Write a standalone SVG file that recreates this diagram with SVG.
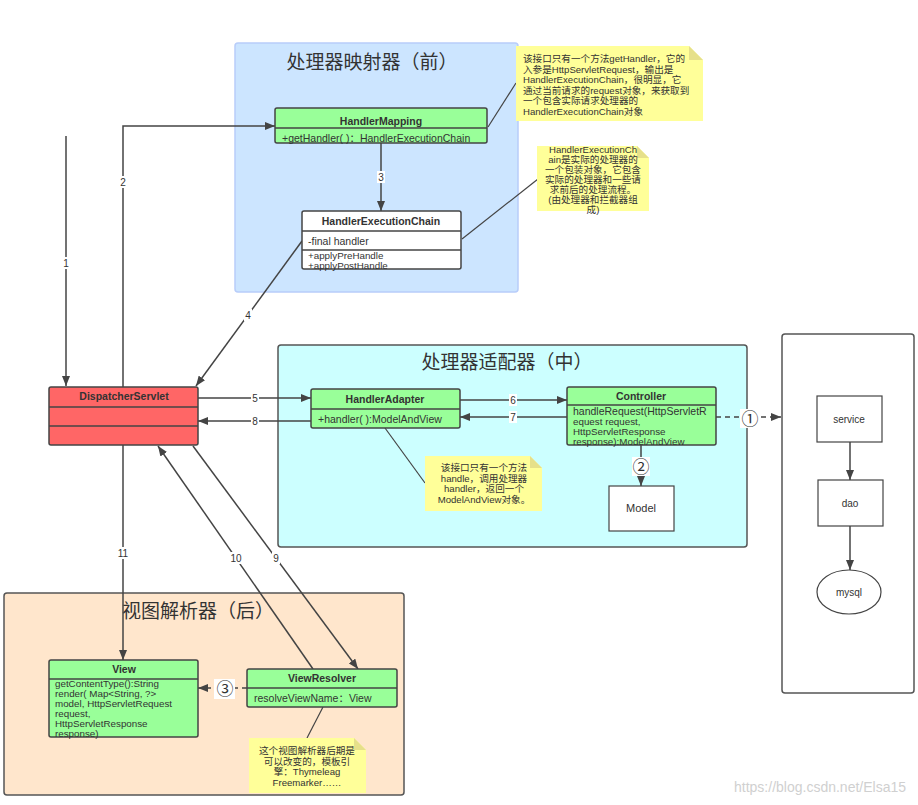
<svg xmlns="http://www.w3.org/2000/svg" width="918" height="805" viewBox="0 0 918 805">
<defs>
<style>
text{font-family:"Liberation Sans","Noto Sans CJK SC",sans-serif;fill:#333;}
.title{font-size:19px;font-family:"Noto Sans CJK SC",sans-serif;fill:#333;}
.cls{stroke:#444;stroke-width:1.5;}
.green{fill:#99ff99;}
.bold{font-size:10.5px;font-weight:bold;}
.m{font-size:10.5px;}
.ms{font-size:9.8px;}
.note{fill:#ffff99;}
.nt{font-size:9.6px;}
.lbl{font-size:10px;text-anchor:middle;}
.conn{fill:none;stroke:#444;stroke-width:1.5;}
.dash{stroke-dasharray:5 4;}
.thin{fill:none;stroke:#444;stroke-width:1.2;}
.lb{fill:#fff;}
</style>
<marker id="arr" markerUnits="userSpaceOnUse" markerWidth="10" markerHeight="8" refX="10" refY="4" orient="auto">
<path d="M0,0 L10,4 L0,8 z" fill="#444"/>
</marker>
</defs>
<rect width="918" height="805" fill="#fff"/>

<!-- group boxes -->
<g id="grp-mapping">
<rect x="235" y="43" width="283" height="249" rx="3" fill="#cce5ff" stroke="#b8cdfa" stroke-width="1.5"/>
<text class="title" x="372" y="69" text-anchor="middle">处理器映射器（前）</text>
</g>
<g id="grp-adapter">
<rect x="278" y="345" width="469" height="202" rx="3" fill="#ccffff" stroke="#555" stroke-width="1.5"/>
<text class="title" x="507" y="369" text-anchor="middle">处理器适配器（中）</text>
</g>
<g id="grp-view">
<rect x="4" y="593" width="400" height="202" rx="3" fill="#ffe6cc" stroke="#555" stroke-width="1.5"/>
<text class="title" x="198" y="618" text-anchor="middle">视图解析器（后）</text>
</g>
<g id="grp-backend">
<rect x="782" y="334" width="132" height="359" rx="3" fill="#fff" stroke="#555" stroke-width="1.5"/>
</g>

<!-- connectors -->
<g id="connectors">
<line class="conn" x1="66" y1="136" x2="66" y2="386" marker-end="url(#arr)"/>
<rect class="lb" x="62" y="257" width="8" height="12"/>
<text class="lbl" x="66" y="267">1</text>

<polyline class="conn" points="123,387 123,126 275,126" marker-end="url(#arr)"/>
<rect class="lb" x="119" y="176" width="8" height="12"/>
<text class="lbl" x="123" y="186">2</text>

<line class="conn" x1="381" y1="143" x2="381" y2="211" marker-end="url(#arr)"/>
<rect class="lb" x="377" y="171" width="8" height="12"/>
<text class="lbl" x="381" y="181">3</text>

<line class="conn" x1="302" y1="241" x2="196" y2="386" marker-end="url(#arr)"/>
<rect class="lb" x="244" y="309" width="8" height="12"/>
<text class="lbl" x="248" y="319">4</text>

<line class="conn" x1="198" y1="398" x2="311" y2="398" marker-end="url(#arr)"/>
<rect class="lb" x="251" y="392" width="8" height="12"/>
<text class="lbl" x="255" y="402">5</text>

<line class="conn" x1="460" y1="400" x2="567" y2="400" marker-end="url(#arr)"/>
<rect class="lb" x="509" y="394" width="8" height="12"/>
<text class="lbl" x="513" y="404">6</text>

<line class="conn" x1="567" y1="417" x2="460" y2="417" marker-end="url(#arr)"/>
<rect class="lb" x="509" y="411" width="8" height="12"/>
<text class="lbl" x="513" y="421">7</text>

<line class="conn" x1="311" y1="421" x2="198" y2="421" marker-end="url(#arr)"/>
<rect class="lb" x="251" y="415" width="8" height="12"/>
<text class="lbl" x="255" y="425">8</text>

<line class="conn" x1="193" y1="446" x2="358" y2="669" marker-end="url(#arr)"/>
<rect class="lb" x="272" y="552" width="8" height="12"/>
<text class="lbl" x="276" y="562">9</text>

<line class="conn" x1="313" y1="669" x2="158" y2="446" marker-end="url(#arr)"/>
<rect class="lb" x="230" y="552" width="12" height="12"/>
<text class="lbl" x="236" y="562">10</text>

<line class="conn" x1="123" y1="445" x2="123" y2="660" marker-end="url(#arr)"/>
<rect class="lb" x="117" y="547" width="12" height="12"/>
<text class="lbl" x="123" y="557">11</text>

<line class="conn" x1="641" y1="445" x2="641" y2="486" marker-end="url(#arr)"/>
<rect class="lb" x="632" y="457" width="18" height="19"/>
<text x="641" y="473" font-size="17" text-anchor="middle">②</text>

<line class="conn dash" x1="716" y1="417" x2="781" y2="417" marker-end="url(#arr)"/>
<rect class="lb" x="740" y="409" width="19" height="19"/>
<text x="750" y="425" font-size="17" text-anchor="middle">①</text>

<line class="conn dash" x1="247" y1="688" x2="198" y2="688" marker-end="url(#arr)"/>
<rect class="lb" x="214" y="679" width="21" height="20"/>
<text x="225" y="695" font-size="17" text-anchor="middle">③</text>

<line class="conn" x1="850" y1="442" x2="850" y2="480" marker-end="url(#arr)"/>
<line class="conn" x1="850" y1="526" x2="850" y2="570" marker-end="url(#arr)"/>

<line class="thin" x1="488" y1="127" x2="516" y2="83"/>
<line class="thin" x1="462" y1="239" x2="538" y2="179"/>
<line class="thin" x1="385" y1="428" x2="425" y2="483"/>
<line class="thin" x1="323" y1="707" x2="307" y2="738"/>
</g>

<!-- nodes -->
<g id="HandlerMapping">
<rect class="cls green" x="275" y="108" width="212" height="35" rx="2"/>
<line class="cls" x1="275" y1="128" x2="487" y2="128"/>
<text class="bold" x="381" y="125" text-anchor="middle">HandlerMapping</text>
<text class="m" x="282" y="142">+getHandler( )：HandlerExecutionChain</text>
</g>

<g id="HandlerExecutionChain">
<rect class="cls" x="302" y="211" width="159" height="58" rx="2" fill="#fff"/>
<line class="cls" x1="302" y1="231" x2="461" y2="231"/>
<line class="cls" x1="302" y1="250" x2="461" y2="250"/>
<text class="bold" x="381" y="225" text-anchor="middle">HandlerExecutionChain</text>
<text class="m" x="308" y="245">-final handler</text>
<text class="ms" x="308" y="259">+applyPreHandle</text>
<text class="ms" x="308" y="269">+applyPostHandle</text>
</g>

<g id="note-mapping">
<path class="note" d="M516,46 H689 L703,60 V121 H516 Z"/>
<path d="M689,46 V60 H703 Z" fill="#e6e08a"/>
<text class="nt" x="523" y="62">该接口只有一个方法getHandler，它的</text>
<text class="nt" x="523" y="72.5">入参是HttpServletRequest，输出是</text>
<text class="nt" x="523" y="83">HandlerExecutionChain，很明显，它</text>
<text class="nt" x="523" y="93.5">通过当前请求的request对象，来获取到</text>
<text class="nt" x="523" y="104">一个包含实际请求处理器的</text>
<text class="nt" x="523" y="114.5">HandlerExecutionChain对象</text>
</g>

<g id="note-chain">
<path class="note" d="M537,146 H637 L649,158 V211 H537 Z"/>
<path d="M637,146 V158 H649 Z" fill="#e6e08a"/>
<text class="nt" x="593" y="153" text-anchor="middle">HandlerExecutionCh</text>
<text class="nt" x="593" y="163" text-anchor="middle">ain是实际的处理器的</text>
<text class="nt" x="593" y="173" text-anchor="middle">一个包装对象，它包含</text>
<text class="nt" x="593" y="183" text-anchor="middle">实际的处理器和一些请</text>
<text class="nt" x="593" y="193" text-anchor="middle">求前后的处理流程。</text>
<text class="nt" x="593" y="203" text-anchor="middle">(由处理器和拦截器组</text>
<text class="nt" x="593" y="212.5" text-anchor="middle">成)</text>
</g>

<g id="DispatcherServlet">
<rect class="cls" x="49" y="387" width="149" height="58" rx="2" fill="#ff6666"/>
<line class="cls" x1="49" y1="407" x2="198" y2="407"/>
<line class="cls" x1="49" y1="426" x2="198" y2="426"/>
<text class="bold" x="124" y="400" text-anchor="middle">DispatcherServlet</text>
</g>

<g id="HandlerAdapter">
<rect class="cls green" x="311" y="389" width="149" height="39" rx="2"/>
<line class="cls" x1="311" y1="409" x2="460" y2="409"/>
<text class="bold" x="385" y="403" text-anchor="middle">HandlerAdapter</text>
<text class="m" x="318" y="423">+handler( ):ModelAndView</text>
</g>

<g id="Controller">
<rect class="cls green" x="567" y="387" width="149" height="58" rx="2"/>
<line class="cls" x1="567" y1="405" x2="716" y2="405"/>
<text class="bold" x="641" y="400" text-anchor="middle">Controller</text>
<text class="m" x="573" y="415" font-size="10.2">handleRequest(HttpServletR</text>
<text class="ms" x="573" y="425">equest request,</text>
<text class="ms" x="573" y="435">HttpServletResponse</text>
<text class="ms" x="573" y="445">response):ModelAndView</text>
</g>

<g id="Model">
<rect x="609" y="486" width="65" height="45" fill="#fff" stroke="#444" stroke-width="1.2"/>
<text x="641" y="512" font-size="11" text-anchor="middle">Model</text>
</g>

<g id="note-adapter">
<path class="note" d="M425,456 H530 L542,468 V511 H425 Z"/>
<path d="M530,456 V468 H542 Z" fill="#e6e08a"/>
<text class="nt" x="484" y="471" text-anchor="middle">该接口只有一个方法</text>
<text class="nt" x="484" y="481.5" text-anchor="middle">handle，调用处理器</text>
<text class="nt" x="484" y="492" text-anchor="middle">handler，返回一个</text>
<text class="nt" x="484" y="502.5" text-anchor="middle">ModelAndView对象。</text>
</g>

<g id="service">
<rect x="817" y="396" width="65" height="46" fill="#fff" stroke="#444" stroke-width="1.2"/>
<text x="849" y="423" font-size="10" text-anchor="middle">service</text>
</g>
<g id="dao">
<rect x="818" y="480" width="65" height="46" fill="#fff" stroke="#444" stroke-width="1.2"/>
<text x="850" y="507" font-size="10" text-anchor="middle">dao</text>
</g>
<g id="mysql">
<ellipse cx="849" cy="592" rx="32" ry="22" fill="#fff" stroke="#444" stroke-width="1.2"/>
<text x="849" y="596" font-size="10" text-anchor="middle">mysql</text>
</g>

<g id="View">
<rect class="cls green" x="49" y="660" width="149" height="77" rx="2"/>
<line class="cls" x1="49" y1="679" x2="198" y2="679"/>
<text class="bold" x="124" y="673" text-anchor="middle">View</text>
<text class="ms" x="55" y="687">getContentType():String</text>
<text class="ms" x="55" y="697">render( Map&lt;String, ?&gt;</text>
<text class="ms" x="55" y="707">model, HttpServletRequest</text>
<text class="ms" x="55" y="717">request,</text>
<text class="ms" x="55" y="727">HttpServletResponse</text>
<text class="ms" x="55" y="737">response)</text>
</g>

<g id="ViewResolver">
<rect class="cls green" x="247" y="669" width="150" height="38" rx="2"/>
<line class="cls" x1="247" y1="688" x2="397" y2="688"/>
<text class="bold" x="322" y="682" text-anchor="middle">ViewResolver</text>
<text class="m" x="254" y="702">resolveViewName：View</text>
</g>

<g id="note-view">
<path class="note" d="M249,738 H354 L366,750 V793 H249 Z"/>
<path d="M354,738 V750 H366 Z" fill="#e6e08a"/>
<text class="nt" x="307" y="754" text-anchor="middle">这个视图解析器后期是</text>
<text class="nt" x="307" y="764.5" text-anchor="middle">可以改变的，模板引</text>
<text class="nt" x="307" y="775" text-anchor="middle">擎：Thymeleag</text>
<text class="nt" x="307" y="785.5" text-anchor="middle">Freemarker……</text>
</g>

<text x="906" y="792" font-size="14" text-anchor="end" style="fill:#d0d0d0">https://blog.csdn.net/Elsa15</text>
</svg>
